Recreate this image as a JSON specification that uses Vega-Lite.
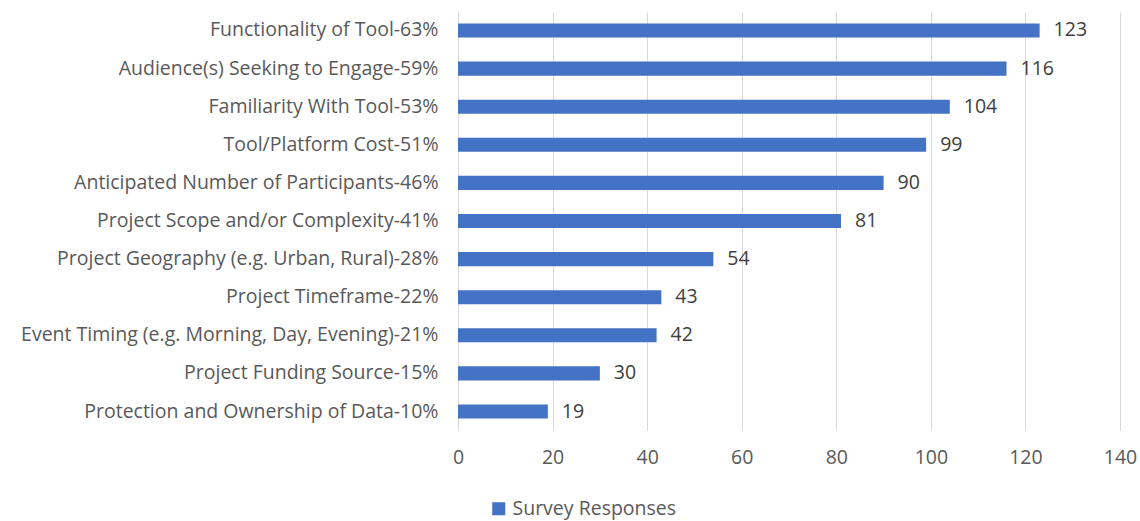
{
  "$schema": "https://vega.github.io/schema/vega-lite/v6.json",
  "autosize": {"type": "none"},
  "padding": {"left": 458, "top": 12, "right": 20, "bottom": 91},
  "width": 662,
  "height": 418,
  "background": "white",
  "config": {
    "font": "Open Sans",
    "view": {"stroke": null},
    "axis": {"labelFont": "Open Sans", "labelColor": "#595959", "labelFontSize": 19.5}
  },
  "data": {
    "values": [
      {"factor": "Functionality of Tool-63%", "responses": 123, "series": "Survey Responses"},
      {"factor": "Audience(s) Seeking to Engage-59%", "responses": 116, "series": "Survey Responses"},
      {"factor": "Familiarity With Tool-53%", "responses": 104, "series": "Survey Responses"},
      {"factor": "Tool/Platform Cost-51%", "responses": 99, "series": "Survey Responses"},
      {"factor": "Anticipated Number of Participants-46%", "responses": 90, "series": "Survey Responses"},
      {"factor": "Project Scope and/or Complexity-41%", "responses": 81, "series": "Survey Responses"},
      {"factor": "Project Geography (e.g. Urban, Rural)-28%", "responses": 54, "series": "Survey Responses"},
      {"factor": "Project Timeframe-22%", "responses": 43, "series": "Survey Responses"},
      {"factor": "Event Timing (e.g. Morning, Day, Evening)-21%", "responses": 42, "series": "Survey Responses"},
      {"factor": "Project Funding Source-15%", "responses": 30, "series": "Survey Responses"},
      {"factor": "Protection and Ownership of Data-10%", "responses": 19, "series": "Survey Responses"}
    ]
  },
  "encoding": {
    "y": {
      "field": "factor",
      "type": "nominal",
      "sort": null,
      "title": null,
      "scale": {"paddingInner": 0.63, "paddingOuter": 0.3},
      "axis": {"ticks": false, "domain": false, "labelPadding": 20, "labelLimit": 500}
    },
    "x": {
      "field": "responses",
      "type": "quantitative",
      "title": null,
      "scale": {"domain": [0, 140], "nice": false},
      "axis": {
        "values": [0, 20, 40, 60, 80, 100, 120, 140],
        "ticks": false,
        "domain": false,
        "grid": true,
        "gridColor": "#d9d9d9",
        "gridWidth": 1,
        "labelFlush": false,
        "labelPadding": 18
      }
    }
  },
  "layer": [
    {
      "mark": {"type": "bar", "color": "#4472C4"},
      "encoding": {
        "color": {
          "field": "series",
          "type": "nominal",
          "scale": {"range": ["#4472C4"]},
          "legend": {
            "title": null,
            "orient": "none",
            "legendX": 31,
            "legendY": 487,
            "symbolType": "square",
            "symbolSize": 169,
            "symbolStrokeWidth": 0,
            "labelFontSize": 19.5,
            "labelColor": "#595959",
            "labelFont": "Open Sans",
            "labelLimit": 400,
            "labelOffset": 4
          }
        }
      }
    },
    {
      "mark": {"type": "text", "align": "left", "dx": 14, "fontSize": 19.5, "color": "#404040", "font": "Open Sans"},
      "encoding": {"text": {"field": "responses", "type": "quantitative"}}
    }
  ]
}
